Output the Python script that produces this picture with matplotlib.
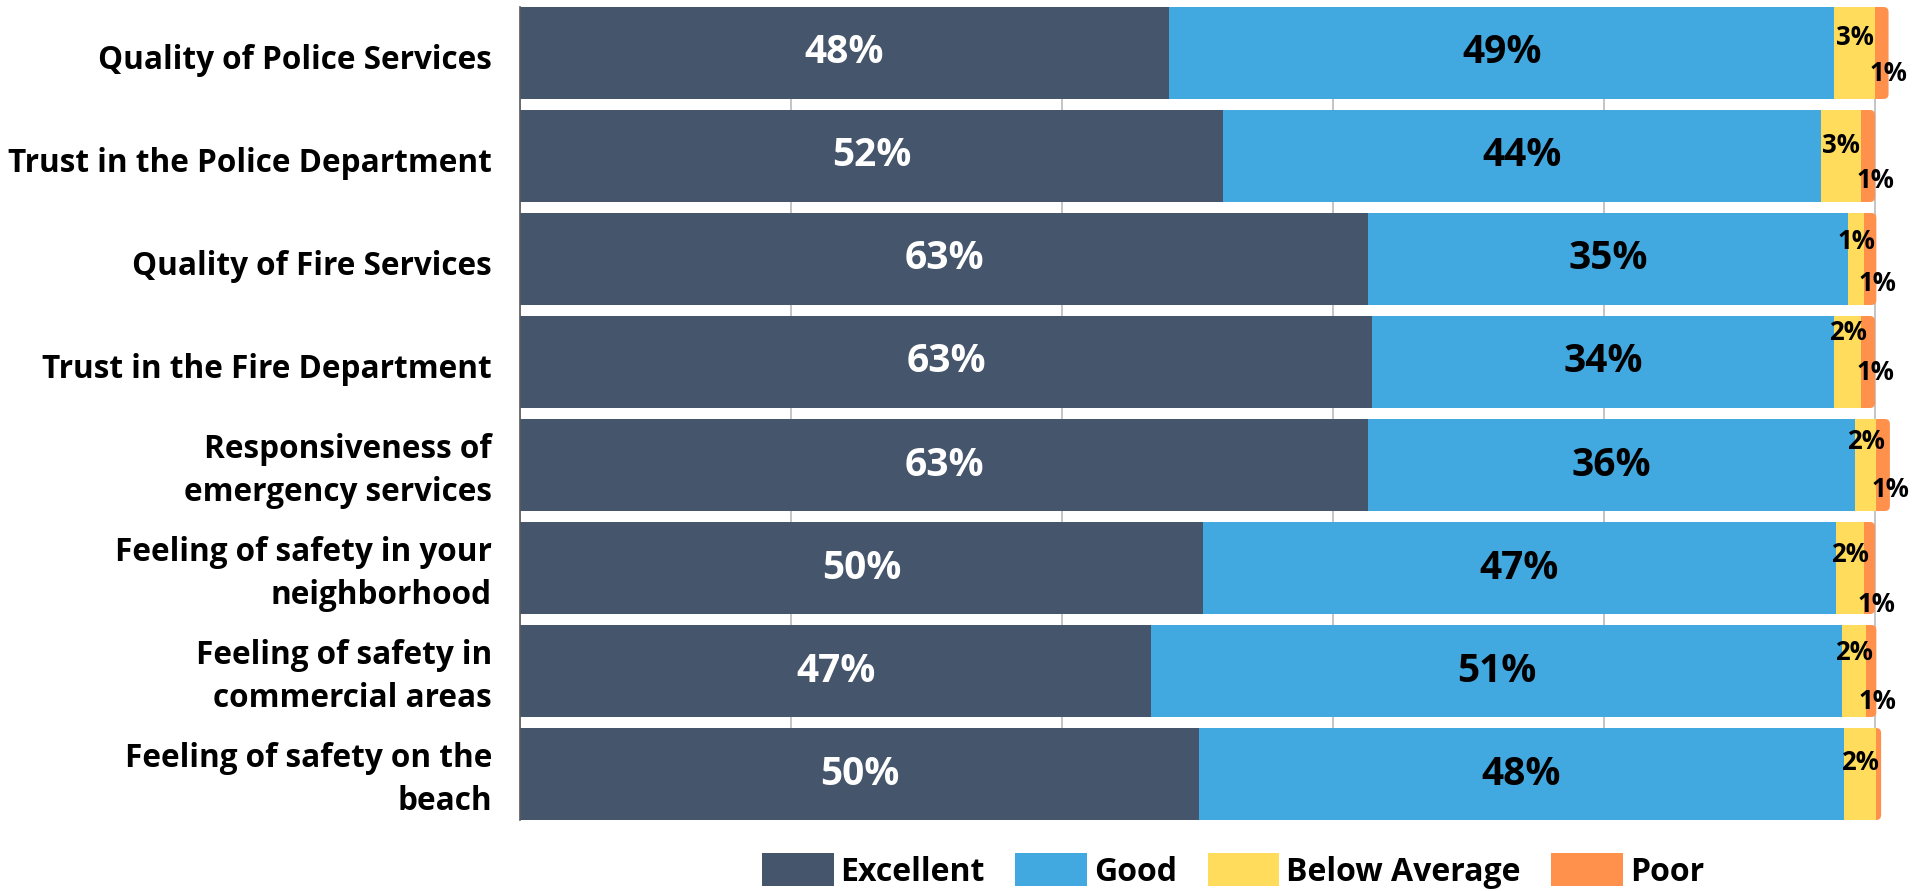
import matplotlib
matplotlib.use("Agg")
import matplotlib.pyplot as plt
from matplotlib.patches import FancyBboxPatch, Patch
from matplotlib.transforms import blended_transform_factory, ScaledTranslation
from matplotlib import font_manager

# Survey results: share of responses per rating (percent)
categories = [
    "Quality of Police Services",
    "Trust in the Police Department",
    "Quality of Fire Services",
    "Trust in the Fire Department",
    "Responsiveness of\nemergency services",
    "Feeling of safety in your\nneighborhood",
    "Feeling of safety in\ncommercial areas",
    "Feeling of safety on the\nbeach",
]
excellent = [47.9, 51.9, 62.6, 62.9, 62.6, 50.4, 46.6, 50.1]
good = [49.1, 44.1, 35.4, 34.1, 35.9, 46.7, 51.0, 47.6]
below_average = [3.0, 3.0, 1.2, 2.0, 1.6, 2.1, 1.7, 2.4]
poor = [1.0, 1.0, 0.9, 1.0, 1.0, 0.8, 0.8, 0.35]
series_names = ["Excellent", "Good", "Below Average", "Poor"]

colors = ["#45556B", "#41A8E0", "#FFDC5B", "#FF914D"]
text_colors = ["white", "black", "black", "black"]

# vertical nudges (pixels) for the small end-of-bar labels
ba_dy = [-15, -10, -17, -29, -24, -14, -19, -12]
poor_dy = [21, 25, 25, 11, 24, 36, 30, 24]

installed = {f.name for f in font_manager.fontManager.ttflist}
family = "Open Sans" if "Open Sans" in installed else "DejaVu Sans"
plt.rcParams["font.family"] = family
plt.rcParams["font.weight"] = "bold"

DPI = 100
W, H = 1926, 891
fig = plt.figure(figsize=(W / DPI, H / DPI), dpi=DPI)

x0_px, top_px, bot_px = 520, 7, 820
px_per_pct = 13.55
n = len(categories)
bar_h = 0.893
ax = fig.add_axes([x0_px / W, (H - bot_px) / H, (W - x0_px) / W, (bot_px - top_px) / H])
ax.set_xlim(0, (W - x0_px) / px_per_pct)
ax.set_ylim(n - 1 + bar_h / 2, -bar_h / 2)

ys = list(range(n))
series = [excellent, good, below_average, poor]

# rounded cap under each bar: spans the full bar, the square segments cover all but its right end
x_units_per_px = 1 / px_per_pct
y_units_per_px = (n - 1 + bar_h) / (bot_px - top_px)
rad_px = 5
for i, y in enumerate(ys):
    total = excellent[i] + good[i] + below_average[i] + poor[i]
    cap = FancyBboxPatch(
        (0, y - bar_h / 2), total, bar_h,
        boxstyle=f"round,pad=0,rounding_size={rad_px * x_units_per_px}",
        mutation_aspect=y_units_per_px / x_units_per_px,
        facecolor=colors[3], edgecolor="none", zorder=2,
    )
    ax.add_patch(cap)

lefts = [0.0] * n
for k, vals in enumerate(series[:3]):
    ax.barh(ys, vals, left=lefts, height=bar_h, color=colors[k], zorder=3)
    lefts = [l + v for l, v in zip(lefts, vals)]

# value labels
lefts = [0.0] * n
for k, vals in enumerate(series):
    for i, (y, v) in enumerate(zip(ys, vals)):
        r = round(v)
        if r < 1:
            continue
        cx = lefts[i] + v / 2
        if k < 2:
            ax.text(cx, y, f"{r}%", ha="center", va="center", color=text_colors[k],
                    fontsize=28, fontweight="bold", zorder=5)
        else:
            dx = 0 if k == 2 else 7
            dy = ba_dy[i] if k == 2 else poor_dy[i]
            ax.annotate(f"{r}%", (cx, y), xytext=(dx * 72 / DPI, -dy * 72 / DPI),
                        textcoords="offset points", ha="center", va="center",
                        color=text_colors[k], fontsize=18.5, fontweight="bold",
                        zorder=5, annotation_clip=False)
    lefts = [l + v for l, v in zip(lefts, vals)]

# axes styling
ax.set_xticks([0, 20, 40, 60, 80, 100])
ax.set_xticklabels([])
ax.tick_params(axis="x", length=0)
ax.grid(axis="x", color="#BFBFBF", linewidth=1.3, zorder=0)
ax.set_axisbelow(True)
for s in ["top", "right", "bottom"]:
    ax.spines[s].set_visible(False)
ax.spines["left"].set_color("#595959")
ax.spines["left"].set_linewidth(1.2)
ax.spines["left"].set_zorder(4)

# category labels, placed line by line on baselines to the left of the axis
ax.set_yticks([])
label_x = (492 - x0_px) / (W - x0_px)
trans = blended_transform_factory(ax.transAxes, ax.transData)
line_gap = 43
for y, name in zip(ys, categories):
    lines = name.split("\n")
    last_base = 16 if len(lines) == 1 else 36
    for j, line in enumerate(lines):
        base = last_base - (len(lines) - 1 - j) * line_gap
        t = trans + ScaledTranslation(0, -base / DPI, fig.dpi_scale_trans)
        ax.text(label_x, y, line, transform=t, ha="right", va="baseline",
                fontsize=22.7, fontweight="bold", color="black", clip_on=False)

handles = [Patch(facecolor=c, edgecolor="none") for c in colors]
fig.legend(handles, series_names, loc="center", bbox_to_anchor=(1233 / W, 20 / H),
           ncol=4, frameon=False, handlelength=2.25, handleheight=1.2,
           handletextpad=0.22, columnspacing=0.95, borderaxespad=0, borderpad=0,
           prop={"weight": "bold", "size": 23})

fig.savefig("out.png", dpi=DPI)
